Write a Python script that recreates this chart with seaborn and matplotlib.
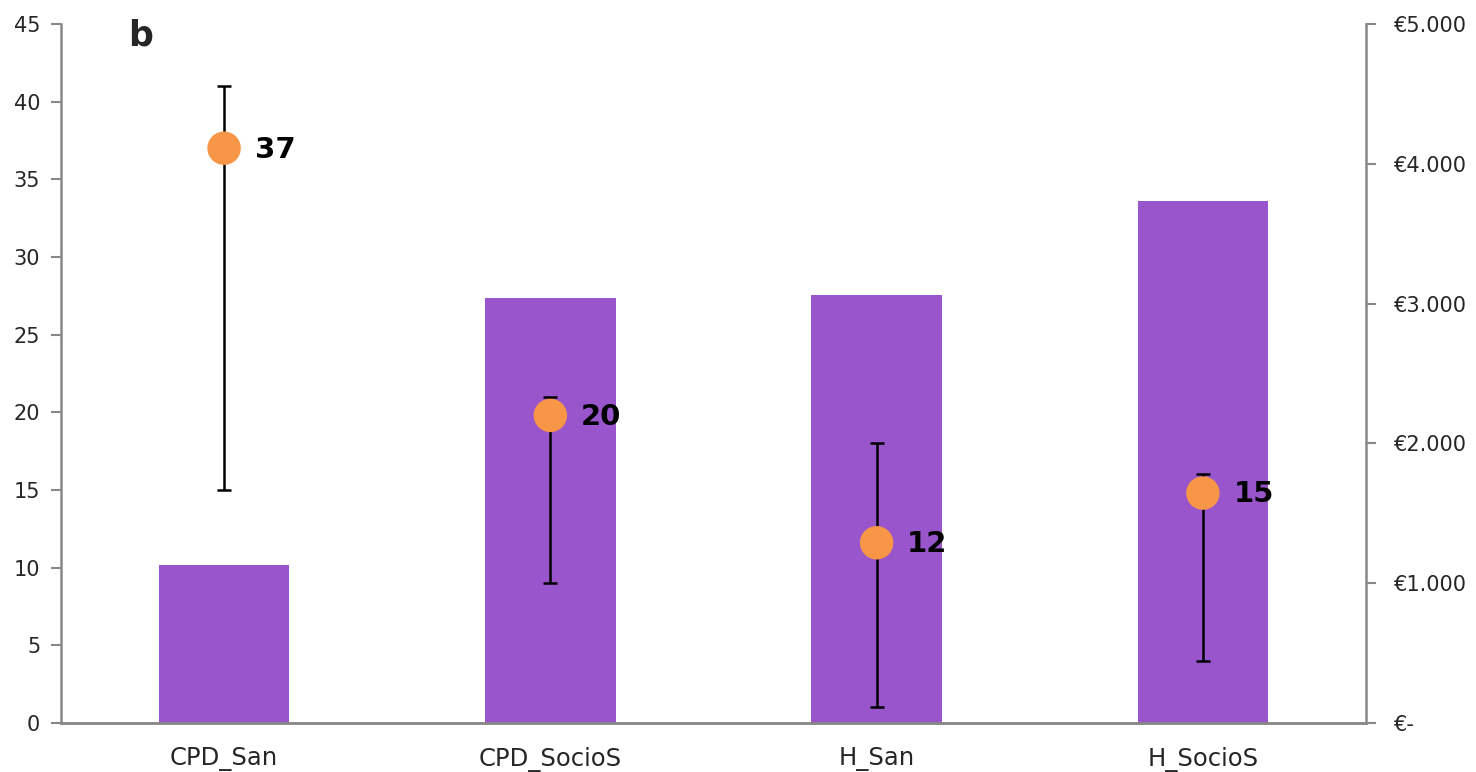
import numpy as np
import seaborn as sns
import matplotlib.pyplot as plt

# data
categories = ["CPD_San", "CPD_SocioS", "H_San", "H_SocioS"]
cost_eur = [1130, 3040, 3060, 3735]          # bars, right axis
days = [37.0, 19.8, 11.6, 14.8]              # dots, left axis
days_low = [15, 9, 1, 4]                     # error bar ends
days_high = [41, 21, 18, 16]
day_labels = ["37", "20", "12", "15"]

left_ticks = [0, 5, 10, 15, 20, 25, 30, 35, 40, 45]
right_ticks = [0, 1000, 2000, 3000, 4000, 5000]
right_tick_labels = ["€-", "€1.000", "€2.000", "€3.000", "€4.000", "€5.000"]

sns.set_style("white")
plt.rcParams["font.family"] = ["DejaVu Sans"]

fig = plt.figure(figsize=(14.76, 7.72), dpi=100)
ax = fig.add_axes([0.0413, 0.0635, 0.8842, 0.9055])
ax2 = ax.twinx()

# bars on the right (euro) axis, kept behind the dots
sns.barplot(x=categories, y=cost_eur, ax=ax2, color="#9955CC", width=0.4,
            saturation=1, edgecolor="none")
ax.set_zorder(ax2.get_zorder() + 1)
ax.patch.set_visible(False)

pos = np.arange(len(categories))
yerr = [np.array(days) - np.array(days_low), np.array(days_high) - np.array(days)]
ax.errorbar(pos, days, yerr=yerr, fmt="none", ecolor="black", elinewidth=1.8,
            capsize=5, capthick=1.8, zorder=2)
sns.scatterplot(x=pos, y=days, ax=ax, s=580, color="#F79646", edgecolor="none",
                zorder=3, legend=False)
for x, y, lab in zip(pos, days, day_labels):
    ax.annotate(lab, (x, y), xytext=(22, -1), textcoords="offset points",
                ha="left", va="center", fontsize=21, fontweight="bold",
                color="black")

ax.set_xlim(-0.5, len(categories) - 0.5)
ax.set_ylim(0, 45)
ax2.set_ylim(0, 5000)
ax.set_yticks(left_ticks)
ax2.set_yticks(right_ticks)
ax2.set_yticklabels(right_tick_labels)

# boundary ticks on x, labels centred under each category
ax.set_xticks(np.arange(-0.5, len(categories), 1.0))
ax.set_xticklabels([])
ax.set_xticks(pos, minor=True)
ax.set_xticklabels(categories, minor=True)
ax.tick_params(axis="x", which="major", length=8, width=1.5, color="#888888", direction="out")
ax.tick_params(axis="x", which="minor", length=0, pad=17, labelsize=17.5, labelcolor="#262626")
ax.tick_params(axis="y", length=7, width=1.5, color="#888888", direction="out",
               labelsize=15, labelcolor="#262626", pad=8)
ax2.tick_params(axis="y", length=7, width=1.5, color="#888888", direction="out",
                labelsize=15, labelcolor="#262626", pad=13)
ax2.set_xlabel("")
ax2.set_ylabel("")

for a in (ax, ax2):
    a.spines["top"].set_visible(False)
    for s in ("left", "right", "bottom"):
        a.spines[s].set_color("#888888")
        a.spines[s].set_linewidth(1.8)
ax.spines["right"].set_visible(False)
ax2.spines["left"].set_visible(False)

fig.text(141 / 1476, 1 - 35 / 772, "b", fontsize=25, fontweight="bold",
         ha="center", va="center")

fig.savefig("out.png", dpi=100)
